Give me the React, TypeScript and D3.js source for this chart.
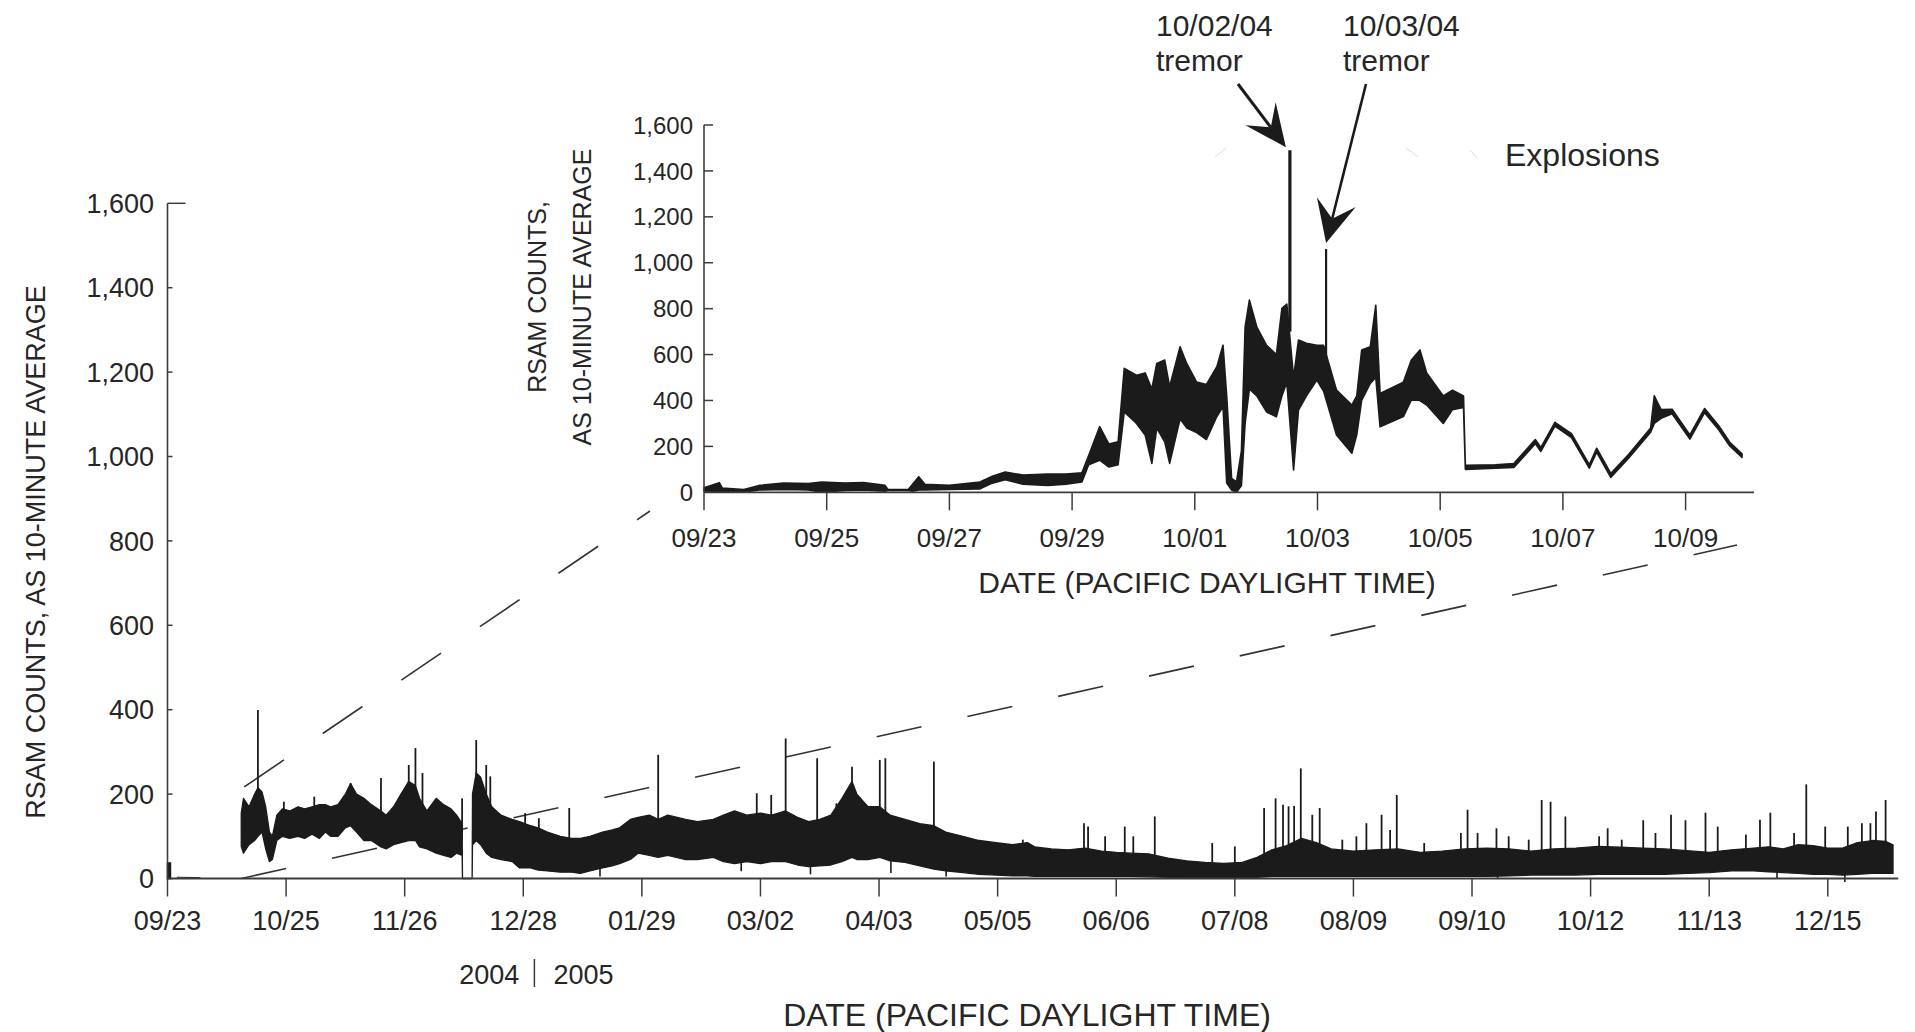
import React from "react";
import * as d3 from "d3";

// ---------------- MAIN CHART DATA (days since 2004-09-23, RSAM counts) ----------------
const mainDay = [
  19.9, 20.5, 22, 23.5, 24.4, 25.5, 26.5, 27.5, 28.3, 29.5,
  31, 33, 35.2, 37, 39, 41, 42.6, 44, 46, 48,
  49.4, 51, 53, 55, 57.6, 59, 61, 63, 65.1, 66.9,
  68, 70, 72.5, 74.5, 76.5, 78, 79.5, 79.6, 82.2, 82.3,
  83.3, 84.5, 86, 87.5, 90, 93, 95, 98, 100, 102.5,
  106, 109, 111.4, 114, 117.4, 120, 122, 124.9, 127, 130,
  132.4, 135, 139.8, 143, 147.3, 150, 153, 156.3, 160, 163,
  166.8, 170, 173, 176, 179, 182, 184.7, 186, 189, 192.2,
  195, 199, 203, 206.8, 210, 214.6, 219, 223.6, 228, 232,
  234, 238.5, 243, 247.6, 252, 256, 260, 265, 270, 275,
  280, 285, 290, 294, 298, 302, 306, 310, 314, 320,
  326, 332, 338, 344, 350, 356, 362, 368, 374, 380,
  386, 392, 398, 404, 410, 416, 422, 428, 432, 436,
  440, 444, 448, 452, 456, 460, 463.6, 465.6,
];
const mainLo = [
  76, 60, 80, 90, 100, 110, 70, 40, 45, 90,
  100, 95, 100, 95, 105, 95, 110, 100, 100, 120,
  125, 110, 90, 90, 75, 70, 80, 85, 90, 90,
  75, 70, 60, 55, 50, 60, 55, 0, 0, 80,
  90, 80, 60, 50, 45, 40, 25, 25, 20, 18,
  15, 15, 12, 18, 25, 30, 35, 45, 60, 55,
  50, 55, 45, 45, 50, 40, 35, 40, 35, 40,
  40, 32, 28, 30, 32, 40, 50, 45, 45, 50,
  42, 38, 30, 22, 18, 14, 10, 8, 6, 6,
  5, 5, 5, 5, 5, 5, 5, 4, 3, 2,
  1, 1, 1, 3, 5, 5, 5, 5, 5, 5,
  5, 5, 5, 5, 5, 5, 6, 8, 8, 8,
  10, 10, 10, 10, 12, 14, 18, 18, 16, 14,
  12, 10, 10, 8, 10, 12, 12, 12,
];
const mainHi = [
  155, 190, 170, 200, 215, 205, 170, 110, 100, 150,
  165, 160, 170, 165, 170, 175, 175, 170, 175, 200,
  225, 200, 190, 175, 160, 150, 170, 200, 230, 220,
  190, 160, 190, 175, 165, 150, 130, 0, 0, 200,
  250, 240, 200, 170, 150, 140, 135, 125, 120, 110,
  100, 95, 95, 100, 110, 115, 120, 140, 145, 150,
  140, 150, 140, 135, 140, 150, 160, 150, 155, 150,
  160, 145, 135, 140, 150, 190, 230, 200, 170, 170,
  150, 140, 130, 125, 110, 100, 90, 85, 80, 85,
  75, 70, 68, 72, 65, 62, 60, 58, 48, 42,
  38, 36, 38, 50, 68, 78, 95, 85, 70, 65,
  68, 70, 62, 65, 70, 72, 70, 65, 70, 72,
  76, 74, 72, 70, 66, 62, 68, 72, 75, 70,
  80, 78, 72, 72, 85, 90, 88, 80,
];
const mainSpikeDay = [
  24.4, 31.4, 39.6, 49.4, 57.6, 65.1, 66.9, 68.8, 79.5, 83.3,
  86.0, 87.1, 96.5, 100.2, 108.4, 132.4, 159.0, 162.9, 166.8, 175.3,
  180.5, 184.7, 192.2, 193.7, 206.8, 247.3, 248.4, 258.3, 266.4, 281.9,
  288.0, 295.9, 299.0, 301.0, 302.5, 304.0, 305.8, 308.9, 310.9, 323.5,
  327.6, 329.9, 331.7, 349.0, 350.8, 353.5, 358.6, 361.9, 370.8, 373.2,
  377.2, 388.6, 392.4, 398.2, 405.7, 409.6, 415.0, 418.3, 429.7, 432.5,
  442.2, 447.3, 457.2, 461.0, 463.6,
  230.8, 253.0, 260.6, 317.0, 320.8, 339.1, 367.3, 386.3, 401.5, 425.9,
  438.9, 453.4, 459.5,
];
const mainSpikeVal = [
  399, 182, 194, 226, 238, 269, 309, 250, 190, 328,
  269, 242, 155, 143, 167, 293, 202, 198, 332, 285,
  178, 265, 281, 285, 277, 131, 123, 123, 147, 84,
  76, 167, 190, 175, 171, 172, 261, 151, 167, 131,
  151, 115, 198, 108, 163, 108, 119, 100, 186, 182,
  147, 119, 92, 138, 151, 138, 156, 123, 139, 156,
  223, 123, 131, 159, 186,
  92, 100, 100, 92, 100, 84, 92, 100, 108, 104,
  108, 123, 131,
];
const mainDipDay = [116.7, 154.8, 173.5, 195.2, 210.1, 358.9, 434.3, 452.6];
const mainDipVal = [5, 17, 10, 13, 5, 0, 0, -8];
// short record at the start of the main plot
const mainPreDay = [0, 0.8];
const mainPreLo = [0, 0];
const mainPreHi = [37, 37];
const mainTraceDay = [2.5, 8.9];
const mainTraceVal = [3, 2];

const mainTickDates = [
  "2004-09-23", "2004-10-25", "2004-11-26", "2004-12-28", "2005-01-29",
  "2005-03-02", "2005-04-03", "2005-05-05", "2005-06-06", "2005-07-08",
  "2005-08-09", "2005-09-10", "2005-10-12", "2005-11-13", "2005-12-15",
];
const yTicks = [0, 200, 400, 600, 800, 1000, 1200, 1400, 1600];

// ---------------- INSET DATA (days since 2004-09-23) ----------------
const insetDay = [
  0, 0.25, 0.3, 0.65, 0.9, 1.3, 1.7, 1.92, 2.3, 2.6,
  2.95, 3.0, 3.33, 3.4, 3.5, 3.6, 4.0, 4.5, 4.7, 4.91,
  5.2, 5.6, 5.9, 6.16, 6.27, 6.45, 6.6, 6.75, 6.85, 7.05,
  7.19, 7.3, 7.38, 7.51, 7.59, 7.76, 7.87, 8.03, 8.19, 8.36,
  8.46, 8.52, 8.6, 8.68, 8.76, 8.82, 8.89, 9.01, 9.17, 9.33,
  9.42, 9.5, 9.61, 9.69, 9.82, 9.99, 10.1, 10.31, 10.56, 10.64,
  10.72, 10.86, 10.95, 11.02, 11.4, 11.53, 11.67, 11.78, 12.05, 12.2,
  12.38, 12.41, 12.9, 13.2, 13.55, 13.64, 13.87, 14.14, 14.43, 14.55,
  14.78, 15.07, 15.43, 15.49, 15.6, 15.78, 16.07, 16.31, 16.54, 16.72,
  16.92,
];
const insetLo = [
  5, 5, 5, 0, 10, 12, 10, 0, 8, 10,
  5, 8, 8, 5, 10, 10, 12, 15, 40, 55,
  35, 30, 35, 45, 120, 140, 110, 120, 350, 300,
  250, 126, 280, 220, 126, 320, 280, 260, 230, 330,
  373, 40, 10, 0, 30, 300, 450, 420, 350, 329,
  420, 480, 97, 358, 420, 489, 440, 250, 170, 250,
  400, 474, 500, 285, 330, 402, 400, 380, 300, 360,
  370, 100, 105, 108, 212, 178, 288, 238, 105, 175,
  65, 148, 262, 300, 322, 342, 232, 347, 272, 202,
  152,
];
const insetHi = [
  20, 42, 18, 12, 30, 40, 38, 45, 40, 42,
  30, 12, 12, 35, 68, 35, 30, 45, 70, 88,
  75, 80, 80, 85, 160, 286, 210, 220, 540, 510,
  520, 450, 561, 576, 460, 634, 560, 480, 470, 547,
  641, 420, 60, 45, 180, 721, 837, 721, 640, 600,
  801, 820, 500, 663, 649, 640, 640, 445, 380, 420,
  620, 634, 815, 430, 480, 576, 620, 520, 420, 445,
  420, 118, 120, 125, 230, 195, 305, 255, 120, 192,
  82, 165, 280, 420, 360, 362, 250, 365, 290, 218,
  168,
];
const insetSpikeDay = [9.55, 10.14];
const insetSpikeVal = [1490, 1060];
const insetSpikeBase = [700, 480];
const insetSpikeWidth = [3.2, 2.2];

const insetTickDates = [
  "2004-09-23", "2004-09-25", "2004-09-27", "2004-09-29", "2004-10-01",
  "2004-10-03", "2004-10-05", "2004-10-07", "2004-10-09",
];

const tremorLabels = ["10/02/04", "10/03/04"];

// ---------------- helpers ----------------
const START = Date.UTC(2004, 8, 23);
const DAY = 86400000;
const toDate = (d: number) => new Date(START + d * DAY);
const parseDay = d3.utcParse("%Y-%m-%d");
const fmtTick = d3.utcFormat("%m/%d");
const fmtY = d3.format(",");

const FONT = "'Liberation Sans', Arial, Helvetica, sans-serif";
const INK = "#1b1b1b";
const AXIS = "#3c3c3c";
const TEXT = "#262626";

function interp(xs: number[], ys: number[], x: number) {
  const i = d3.bisectLeft(xs, x);
  if (i <= 0) return ys[0];
  if (i >= xs.length) return ys[ys.length - 1];
  const t = (x - xs[i - 1]) / (xs[i] - xs[i - 1]);
  return ys[i - 1] + t * (ys[i] - ys[i - 1]);
}

function arrow(tail: [number, number], tip: [number, number], len: number, half: number, notch: number) {
  const dx = tip[0] - tail[0];
  const dy = tip[1] - tail[1];
  const L = Math.hypot(dx, dy);
  const ux = dx / L, uy = dy / L;
  const nx = -uy, ny = ux;
  const bx = tip[0] - ux * len, by = tip[1] - uy * len;
  const w1: [number, number] = [bx + nx * half, by + ny * half];
  const w2: [number, number] = [bx - nx * half, by - ny * half];
  const nt: [number, number] = [tip[0] - ux * notch, tip[1] - uy * notch];
  const head = `M${tip[0]},${tip[1]}L${w1[0]},${w1[1]}L${nt[0]},${nt[1]}L${w2[0]},${w2[1]}Z`;
  return { head, shaftEnd: nt };
}

export default function App() {
  // main scales
  const mx = d3.scaleUtc().domain([toDate(0), toDate(467)]).range([167.5, 1898.2]);
  const my = d3.scaleLinear().domain([0, 1600]).range([878.5, 203.3]);
  // inset scales
  const ix = d3.scaleUtc().domain([toDate(0), toDate(17.115)]).range([704, 1754]);
  const iy = d3.scaleLinear().domain([0, 1600]).range([492.3, 125]);

  const idx = (n: number) => d3.range(n);

  const mainArea = d3
    .area<number>()
    .x((i) => mx(toDate(mainDay[i])))
    .y0((i) => my(mainLo[i]))
    .y1((i) => my(mainHi[i]))(idx(mainDay.length)) as string;

  const preArea = d3
    .area<number>()
    .x((i) => mx(toDate(mainPreDay[i])))
    .y0((i) => my(mainPreLo[i]))
    .y1((i) => my(mainPreHi[i]))(idx(mainPreDay.length)) as string;

  const traceLine = d3
    .line<number>()
    .x((i) => mx(toDate(mainTraceDay[i])))
    .y((i) => my(mainTraceVal[i]))(idx(mainTraceDay.length)) as string;

  const insetArea = d3
    .area<number>()
    .x((i) => ix(toDate(insetDay[i])))
    .y0((i) => iy(insetLo[i]))
    .y1((i) => iy(insetHi[i]))(idx(insetDay.length)) as string;

  const mainMid = mainLo.map((v, i) => (v + mainHi[i]) / 2);

  // annotation arrows anchored to the two tremor spikes
  const s1: [number, number] = [ix(toDate(insetSpikeDay[0])), iy(insetSpikeVal[0])];
  const s2: [number, number] = [ix(toDate(insetSpikeDay[1])), iy(insetSpikeVal[1])];
  const a1 = arrow([1238, 84], [s1[0] - 4, s1[1] - 3], 42, 19, 25);
  const a2 = arrow([1366, 84], [s2[0], s2[1] - 6], 42, 20, 25);

  // zoom connection dashed lines
  const upStart: [number, number] = [mx(toDate(20.7)), my(217)];
  const loStart: [number, number] = [mx(toDate(19.9)), my(0)];
  const upEnd: [number, number] = [650, 511];
  const loEnd: [number, number] = [1737, 545];

  const yearLineX = mx(parseDay("2004-12-31") as Date);

  return (
    <div style={{ position: "absolute", left: 0, top: 0, width: 1915, height: 1032, background: "#fff" }}>
      <svg width={1915} height={1032} viewBox="0 0 1915 1032" style={{ display: "block" }} fontFamily={FONT}>
        <rect width={1915} height={1032} fill="#fff" />

        {/* dashed zoom lines */}
        <line x1={upStart[0]} y1={upStart[1]} x2={upEnd[0]} y2={upEnd[1]} stroke="#333" strokeWidth={1.6} strokeDasharray="48 47" />
        <line x1={loStart[0]} y1={loStart[1]} x2={loEnd[0]} y2={loEnd[1]} stroke="#333" strokeWidth={1.6} strokeDasharray="46 47" />

        {/* ---------- MAIN CHART ---------- */}
        <path d={preArea} fill={INK} stroke={INK} strokeWidth={1.5} />
        <path d={traceLine} fill="none" stroke={INK} strokeWidth={1} />
        <path d={mainArea} fill={INK} stroke={INK} strokeWidth={1.3} strokeLinejoin="round" />
        {mainSpikeDay.map((d, i) => (
          <line
            key={"sp" + i}
            x1={mx(toDate(d))}
            x2={mx(toDate(d))}
            y1={my(interp(mainDay, mainMid, d))}
            y2={my(mainSpikeVal[i])}
            stroke={INK}
            strokeWidth={1.8}
          />
        ))}
        {mainDipDay.map((d, i) => (
          <line
            key={"dp" + i}
            x1={mx(toDate(d))}
            x2={mx(toDate(d))}
            y1={my(interp(mainDay, mainMid, d))}
            y2={my(mainDipVal[i])}
            stroke={INK}
            strokeWidth={1.6}
          />
        ))}

        {/* axes */}
        <line x1={mx(toDate(0))} x2={mx(toDate(0))} y1={my(0)} y2={my(1600)} stroke={AXIS} strokeWidth={1.6} />
        <line x1={mx(toDate(0))} x2={mx(toDate(467))} y1={my(0)} y2={my(0)} stroke={AXIS} strokeWidth={1.8} />
        {yTicks.map((t) => (
          <g key={"my" + t}>
            <line
              x1={mx(toDate(0))}
              x2={mx(toDate(0)) + (t === 1600 ? 18 : 5)}
              y1={my(t)}
              y2={my(t)}
              stroke={AXIS}
              strokeWidth={1.5}
            />
            <text x={154} y={my(t)} dy="0.36em" textAnchor="end" fontSize={27} fill={TEXT}>
              {fmtY(t)}
            </text>
          </g>
        ))}
        {mainTickDates.map((s) => {
          const x = mx(parseDay(s) as Date);
          return (
            <g key={"mx" + s}>
              <line x1={x} x2={x} y1={my(0)} y2={my(0) + 18} stroke={AXIS} strokeWidth={1.5} />
              <text x={x} y={930} textAnchor="middle" fontSize={27} fill={TEXT}>
                {fmtTick(parseDay(s) as Date)}
              </text>
            </g>
          );
        })}
        {/* year divider */}
        <line x1={yearLineX} x2={yearLineX} y1={959} y2={987} stroke={AXIS} strokeWidth={1.5} />
        <text x={yearLineX - 15} y={984} textAnchor="end" fontSize={27} fill={TEXT}>2004</text>
        <text x={yearLineX + 19} y={984} textAnchor="start" fontSize={27} fill={TEXT}>2005</text>

        <text x={1027} y={1026} textAnchor="middle" fontSize={32} fill={TEXT}>
          DATE (PACIFIC DAYLIGHT TIME)
        </text>
        <text transform="translate(45,552) rotate(-90)" textAnchor="middle" fontSize={27} fill={TEXT}>
          RSAM COUNTS, AS 10-MINUTE AVERAGE
        </text>

        {/* ---------- INSET CHART ---------- */}
        <path d={insetArea} fill={INK} stroke={INK} strokeWidth={1.6} strokeLinejoin="round" />
        {insetSpikeDay.map((d, i) => (
          <line
            key={"isp" + i}
            x1={ix(toDate(d))}
            x2={ix(toDate(d))}
            y1={iy(insetSpikeBase[i])}
            y2={iy(insetSpikeVal[i])}
            stroke={INK}
            strokeWidth={insetSpikeWidth[i]}
          />
        ))}
        <line x1={ix(toDate(0))} x2={ix(toDate(0))} y1={iy(0)} y2={iy(1600)} stroke={AXIS} strokeWidth={1.6} />
        <line x1={ix(toDate(0))} x2={ix(toDate(17.115))} y1={iy(0)} y2={iy(0)} stroke={AXIS} strokeWidth={1.8} />
        {yTicks.map((t) => (
          <g key={"iy" + t}>
            <line x1={ix(toDate(0))} x2={ix(toDate(0)) + 9} y1={iy(t)} y2={iy(t)} stroke={AXIS} strokeWidth={1.5} />
            <text x={693} y={iy(t)} dy="0.36em" textAnchor="end" fontSize={24} fill={TEXT}>
              {fmtY(t)}
            </text>
          </g>
        ))}
        {insetTickDates.map((s) => {
          const x = ix(parseDay(s) as Date);
          return (
            <g key={"ix" + s}>
              <line x1={x} x2={x} y1={iy(0)} y2={iy(0) + 18} stroke={AXIS} strokeWidth={1.5} />
              <text x={x} y={547} textAnchor="middle" fontSize={26} fill={TEXT}>
                {fmtTick(parseDay(s) as Date)}
              </text>
            </g>
          );
        })}
        <text x={1207} y={593} textAnchor="middle" fontSize={30} fill={TEXT}>
          DATE (PACIFIC DAYLIGHT TIME)
        </text>
        <text transform="translate(546,297) rotate(-90)" textAnchor="middle" fontSize={25} fill={TEXT}>
          RSAM COUNTS,
        </text>
        <text transform="translate(591,297) rotate(-90)" textAnchor="middle" fontSize={25} fill={TEXT}>
          AS 10-MINUTE AVERAGE
        </text>

        {/* annotations */}
        <text x={1156} y={36} fontSize={30} fill={TEXT}>{tremorLabels[0]}</text>
        <text x={1156} y={71} fontSize={30} fill={TEXT}>tremor</text>
        <text x={1343} y={36} fontSize={30} fill={TEXT}>{tremorLabels[1]}</text>
        <text x={1343} y={71} fontSize={30} fill={TEXT}>tremor</text>
        <line x1={1238} y1={84} x2={a1.shaftEnd[0]} y2={a1.shaftEnd[1]} stroke={INK} strokeWidth={3} />
        <path d={a1.head} fill={INK} />
        <line x1={1366} y1={84} x2={a2.shaftEnd[0]} y2={a2.shaftEnd[1]} stroke={INK} strokeWidth={2.6} />
        <path d={a2.head} fill={INK} />

        <text x={1505} y={166} fontSize={32} fill={TEXT}>Explosions</text>
        <line x1={1215} y1={157} x2={1226} y2={148} stroke="#dcdcdc" strokeWidth={1} />
        <line x1={1406} y1={148} x2={1418} y2={157} stroke="#dcdcdc" strokeWidth={1} />
        <line x1={1470} y1={150} x2={1477} y2={158} stroke="#dcdcdc" strokeWidth={1} />
      </svg>
    </div>
  );
}
